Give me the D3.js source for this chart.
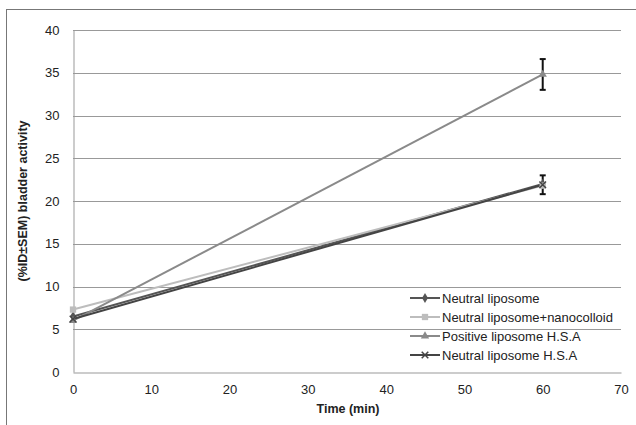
<!DOCTYPE html>
<html>
<head>
<meta charset="utf-8">
<script src="https://cdn.jsdelivr.net/npm/d3@7"></script>
<style>
  body { margin: 0; background: #fff; }
  svg { font-family: "Liberation Sans", Arial, sans-serif; }
</style>
</head>
<body>
<svg id="chart" width="636" height="425"></svg>
<script>
// data
var times = [0, 60];
var seriesNames = ["Neutral liposome", "Neutral liposome+nanocolloid", "Positive liposome H.S.A", "Neutral liposome H.S.A"];
var neutral = [6.5, 22.0];
var neutralNano = [7.3, 21.8];
var positiveHSA = [6.0, 34.8];
var neutralHSA = [6.2, 21.9];
var positiveErr = [0, 1.8];
var neutralHSAErr = [0, 1.1];
var xTicks = [0, 10, 20, 30, 40, 50, 60, 70];
var yTicks = [0, 5, 10, 15, 20, 25, 30, 35, 40];

var colors = ["#555555", "#bdbdbd", "#8a8a8a", "#444444"];
var symbols = [d3.symbolDiamond, d3.symbolSquare, d3.symbolTriangle, d3.symbolCross];
var allSeries = [neutral, neutralNano, positiveHSA, neutralHSA];
var errs = [null, null, positiveErr, neutralHSAErr];

let svg = d3.select("#chart");

// outer frame
svg.append("rect")
  .attr("x", 6.5).attr("y", 9.5)
  .attr("width", 640).attr("height", 430)
  .attr("fill", "none").attr("stroke", "#777");

let x = d3.scaleLinear().domain([0, 70]).range([73, 621]);
let y = d3.scaleLinear().domain([0, 40]).range([372, 30]);

// gridlines
svg.append("g").selectAll("line")
  .data(yTicks.filter(d => d > 0))
  .join("line")
  .attr("x1", x(0)).attr("x2", x(70))
  .attr("y1", d => Math.round(y(d)) + 0.5).attr("y2", d => Math.round(y(d)) + 0.5)
  .attr("stroke", "#999").attr("stroke-width", 1);

// axes
let xAxis = svg.append("g")
  .attr("transform", "translate(0," + (Math.round(y(0)) + 0.5) + ")")
  .call(d3.axisBottom(x).tickValues(xTicks).tickSize(0).tickPadding(12));
let yAxis = svg.append("g")
  .attr("transform", "translate(" + (Math.round(x(0)) + 0.5) + ",0)")
  .call(d3.axisLeft(y).tickValues(yTicks).tickSize(0).tickPadding(14));
[xAxis, yAxis].forEach(function (g) {
  g.select(".domain").attr("stroke", "#999");
  g.selectAll("text").attr("font-size", 13).attr("fill", "#222")
    .attr("font-family", "Liberation Sans, Arial, sans-serif");
});

// axis titles
svg.append("text")
  .attr("x", 348).attr("y", 413)
  .attr("text-anchor", "middle")
  .attr("font-size", 12.5).attr("font-weight", "bold").attr("fill", "#222")
  .text("Time (min)");
svg.append("text")
  .attr("transform", "translate(27,201) rotate(-90)")
  .attr("text-anchor", "middle")
  .attr("font-size", 12.5).attr("font-weight", "bold").attr("fill", "#222")
  .text("(%ID±SEM) bladder activity");

let line = d3.line().x((d, i) => x(times[i])).y(d => y(d));

// series lines
allSeries.forEach(function (vals, k) {
  svg.append("path")
    .datum(vals)
    .attr("d", line)
    .attr("fill", "none")
    .attr("stroke", colors[k])
    .attr("stroke-width", 2);
});

// error bars
allSeries.forEach(function (vals, k) {
  if (!errs[k]) return;
  vals.forEach(function (v, i) {
    let e = errs[k][i];
    if (!e) return;
    let cx = x(times[i]);
    let g = svg.append("g").attr("stroke", "#111").attr("stroke-width", 2);
    g.append("line").attr("x1", cx).attr("x2", cx).attr("y1", y(v - e)).attr("y2", y(v + e));
    g.append("line").attr("x1", cx - 3).attr("x2", cx + 3).attr("y1", y(v - e)).attr("y2", y(v - e));
    g.append("line").attr("x1", cx - 3).attr("x2", cx + 3).attr("y1", y(v + e)).attr("y2", y(v + e));
  });
});

// markers
function marker(g, k, cx, cy) {
  if (k === 3) {
    g.append("path")
      .attr("d", d3.symbol().type(d3.symbolX).size(30)())
      .attr("transform", "translate(" + cx + "," + cy + ")")
      .attr("fill", "none").attr("stroke", colors[k]).attr("stroke-width", 1.5);
  } else {
    g.append("path")
      .attr("d", d3.symbol().type(symbols[k]).size(k === 1 ? 40 : 30)())
      .attr("transform", "translate(" + cx + "," + cy + ")")
      .attr("fill", colors[k]);
  }
}
allSeries.forEach(function (vals, k) {
  vals.forEach(function (v, i) { marker(svg, k, x(times[i]), y(v)); });
});

// legend
let leg = svg.append("g");
seriesNames.forEach(function (name, k) {
  let ly = 298 + k * 19;
  leg.append("line")
    .attr("x1", 410).attr("x2", 440).attr("y1", ly).attr("y2", ly)
    .attr("stroke", colors[k]).attr("stroke-width", 2);
  marker(leg, k, 425, ly);
  leg.append("text")
    .attr("x", 442).attr("y", ly + 4.5)
    .attr("font-size", 13).attr("fill", "#222")
    .text(name);
});
</script>
</body>
</html>
